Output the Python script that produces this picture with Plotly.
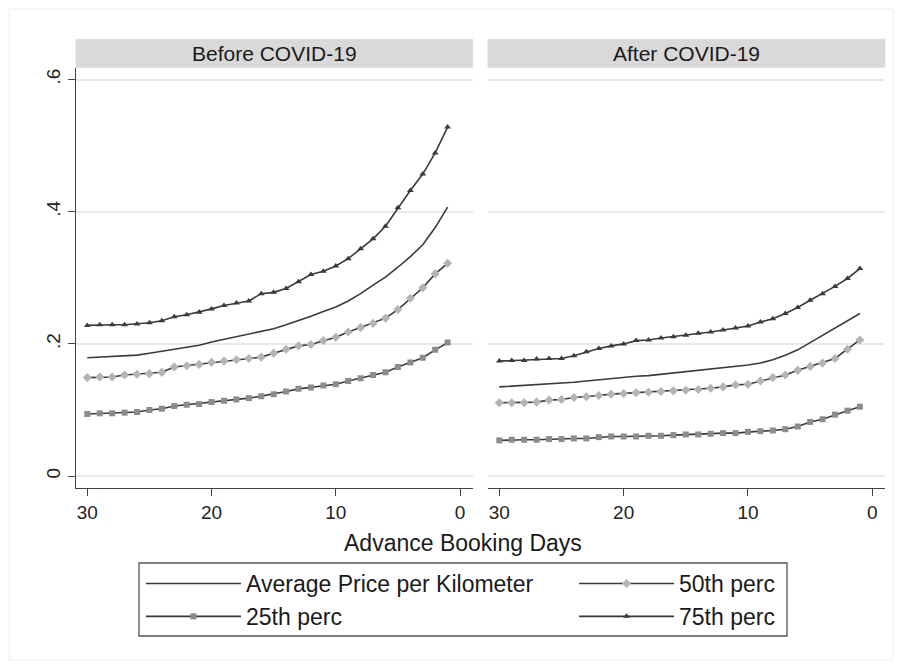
import plotly.graph_objects as go

days = list(range(30, 0, -1))

# Before COVID-19
pre_avg = [0.179, 0.180, 0.180, 0.181, 0.183, 0.186, 0.189, 0.193, 0.196, 0.198,
           0.203, 0.207, 0.211, 0.215, 0.219, 0.223, 0.229, 0.235, 0.242, 0.249,
           0.256, 0.265, 0.276, 0.289, 0.301, 0.316, 0.332, 0.350, 0.376, 0.407]
pre_p50 = [0.149, 0.150, 0.150, 0.153, 0.154, 0.155, 0.157, 0.165, 0.167, 0.169,
           0.172, 0.174, 0.176, 0.178, 0.180, 0.186, 0.192, 0.197, 0.199, 0.205,
           0.210, 0.218, 0.225, 0.231, 0.239, 0.252, 0.269, 0.285, 0.306, 0.322]
pre_p25 = [0.094, 0.095, 0.095, 0.096, 0.097, 0.100, 0.102, 0.106, 0.108, 0.109,
           0.112, 0.114, 0.116, 0.118, 0.121, 0.124, 0.128, 0.132, 0.134, 0.137,
           0.139, 0.144, 0.148, 0.153, 0.157, 0.165, 0.172, 0.179, 0.191, 0.202]
pre_p75 = [0.228, 0.229, 0.229, 0.229, 0.230, 0.232, 0.235, 0.241, 0.244, 0.248,
           0.253, 0.258, 0.262, 0.265, 0.276, 0.278, 0.284, 0.294, 0.305, 0.310,
           0.318, 0.329, 0.344, 0.359, 0.378, 0.406, 0.432, 0.457, 0.489, 0.528]

# After COVID-19
post_avg = [0.135, 0.136, 0.137, 0.138, 0.139, 0.140, 0.142, 0.144, 0.146, 0.148,
            0.149, 0.151, 0.152, 0.154, 0.155, 0.157, 0.159, 0.161, 0.163, 0.166,
            0.168, 0.171, 0.176, 0.183, 0.191, 0.202, 0.213, 0.224, 0.235, 0.246]
post_p50 = [0.111, 0.111, 0.111, 0.112, 0.115, 0.116, 0.119, 0.120, 0.122, 0.124,
            0.125, 0.126, 0.127, 0.128, 0.129, 0.130, 0.131, 0.133, 0.135, 0.138,
            0.139, 0.144, 0.149, 0.153, 0.160, 0.166, 0.171, 0.178, 0.192, 0.206]
post_p25 = [0.054, 0.055, 0.055, 0.055, 0.056, 0.056, 0.057, 0.057, 0.059, 0.060,
            0.060, 0.060, 0.061, 0.061, 0.062, 0.063, 0.063, 0.064, 0.065, 0.065,
            0.067, 0.068, 0.069, 0.071, 0.075, 0.082, 0.086, 0.093, 0.099, 0.105]
post_p75 = [0.174, 0.175, 0.175, 0.177, 0.178, 0.178, 0.182, 0.188, 0.193, 0.197,
            0.200, 0.205, 0.206, 0.209, 0.211, 0.213, 0.216, 0.218, 0.221, 0.224,
            0.227, 0.233, 0.238, 0.246, 0.255, 0.266, 0.276, 0.287, 0.299, 0.314]

panel_titles = ["Before COVID-19", "After COVID-19"]
x_ticks = [30, 20, 10, 0]
y_ticks = [0, 0.2, 0.4, 0.6]
y_ticktext = ["0", ".2", ".4", ".6"]

W, H = 899, 665
FONT = "Liberation Sans, Arial, sans-serif"
LINE = "#3a3a3a"

def px(x):
    return x / W

def py(y):
    return (H - y) / H

fig = go.Figure()

series_style = [
    ("Average Price per Kilometer", None, None, 0, "legend"),
    ("50th perc", "diamond", "#b4b4b4", 7, "legend2"),
    ("25th perc", "square", "#8c8c8c", 6, "legend"),
    ("75th perc", "triangle-up", "#3a3a3a", 6, "legend2"),
]
pre = [pre_avg, pre_p50, pre_p25, pre_p75]
post = [post_avg, post_p50, post_p25, post_p75]

for panel, (data, xa, ya) in enumerate([(pre, "x", "y"), (post, "x2", "y2")]):
    for (name, sym, mcol, msize, leg), vals in zip(series_style, data):
        kw = dict(x=days, y=vals, name=name, xaxis=xa, yaxis=ya,
                  line=dict(color=LINE, width=1.6), legend=leg,
                  showlegend=(panel == 0))
        if sym is None:
            kw["mode"] = "lines"
        else:
            kw["mode"] = "lines+markers"
            kw["marker"] = dict(symbol=sym, color=mcol, size=msize, line=dict(width=0))
        fig.add_trace(go.Scatter(**kw))

ydom = [py(488), py(68.3)]
xr = [30.91, -1.02]
yr = [-0.018, 0.617]

axis_common = dict(range=xr, tickvals=x_ticks, showline=True, linecolor="#444",
                   linewidth=1.3, ticks="outside", ticklen=7, tickcolor="#444",
                   showgrid=False, zeroline=False,
                   tickfont=dict(family=FONT, size=19, color="#222"))
fig.update_layout(
    xaxis=dict(domain=[px(76), px(472.7)], anchor="y", **axis_common),
    xaxis2=dict(domain=[px(488), px(885)], anchor="y2", **axis_common),
    yaxis=dict(domain=ydom, range=yr, tickvals=y_ticks, ticktext=y_ticktext,
               showline=True, linecolor="#444", linewidth=1.3, ticks="outside",
               ticklen=7, tickcolor="#444", tickangle=-90,
               showgrid=True, gridcolor="#e9e9e9", gridwidth=1.5, zeroline=False,
               tickfont=dict(family=FONT, size=19, color="#222")),
    yaxis2=dict(domain=ydom, range=yr, tickvals=y_ticks, anchor="x2",
                showline=False, showticklabels=False, ticks="",
                showgrid=True, gridcolor="#e9e9e9", gridwidth=1.5, zeroline=False),
)

shapes = []
annotations = []
# outer faint frame
shapes.append(dict(type="rect", xref="paper", yref="paper",
                   x0=px(9), x1=px(893), y0=py(660), y1=py(9),
                   line=dict(color="#eeeeee", width=1), fillcolor="rgba(0,0,0,0)",
                   layer="below"))
for (x0, x1), title in zip([(76, 472.7), (488, 885)], panel_titles):
    shapes.append(dict(type="rect", xref="paper", yref="paper",
                       x0=px(x0), x1=px(x1), y0=py(67.3), y1=py(39.3),
                       line=dict(color="#d8dfe4", width=1), fillcolor="#d9d9d9",
                       layer="below"))
    annotations.append(dict(text=title, xref="paper", yref="paper",
                            x=px((x0 + x1) / 2), y=py(53.3), showarrow=False,
                            xanchor="center", yanchor="middle",
                            font=dict(family=FONT, size=21, color="#1a1a1a")))
annotations.append(dict(text="Advance Booking Days", xref="paper", yref="paper",
                        x=px(463), y=py(543), showarrow=False,
                        xanchor="center", yanchor="middle",
                        font=dict(family=FONT, size=23, color="#1a1a1a")))
# legend box
shapes.append(dict(type="rect", xref="paper", yref="paper",
                   x0=px(139), x1=px(787), y0=py(636), y1=py(563),
                   line=dict(color="#555", width=1.3), fillcolor="rgba(0,0,0,0)"))

leg_common = dict(orientation="v", bgcolor="rgba(0,0,0,0)", borderwidth=0,
                  font=dict(family=FONT, size=23, color="#1a1a1a"),
                  itemwidth=95, yanchor="top", xanchor="left", tracegroupgap=0)
fig.update_layout(
    legend=dict(x=px(141), y=py(562), **leg_common),
    legend2=dict(x=px(574), y=py(562), **leg_common),
    shapes=shapes, annotations=annotations,
    width=W, height=H, margin=dict(l=0, r=0, t=0, b=0),
    paper_bgcolor="white", plot_bgcolor="white",
    font=dict(family=FONT),
)

fig.write_html("out.html")
